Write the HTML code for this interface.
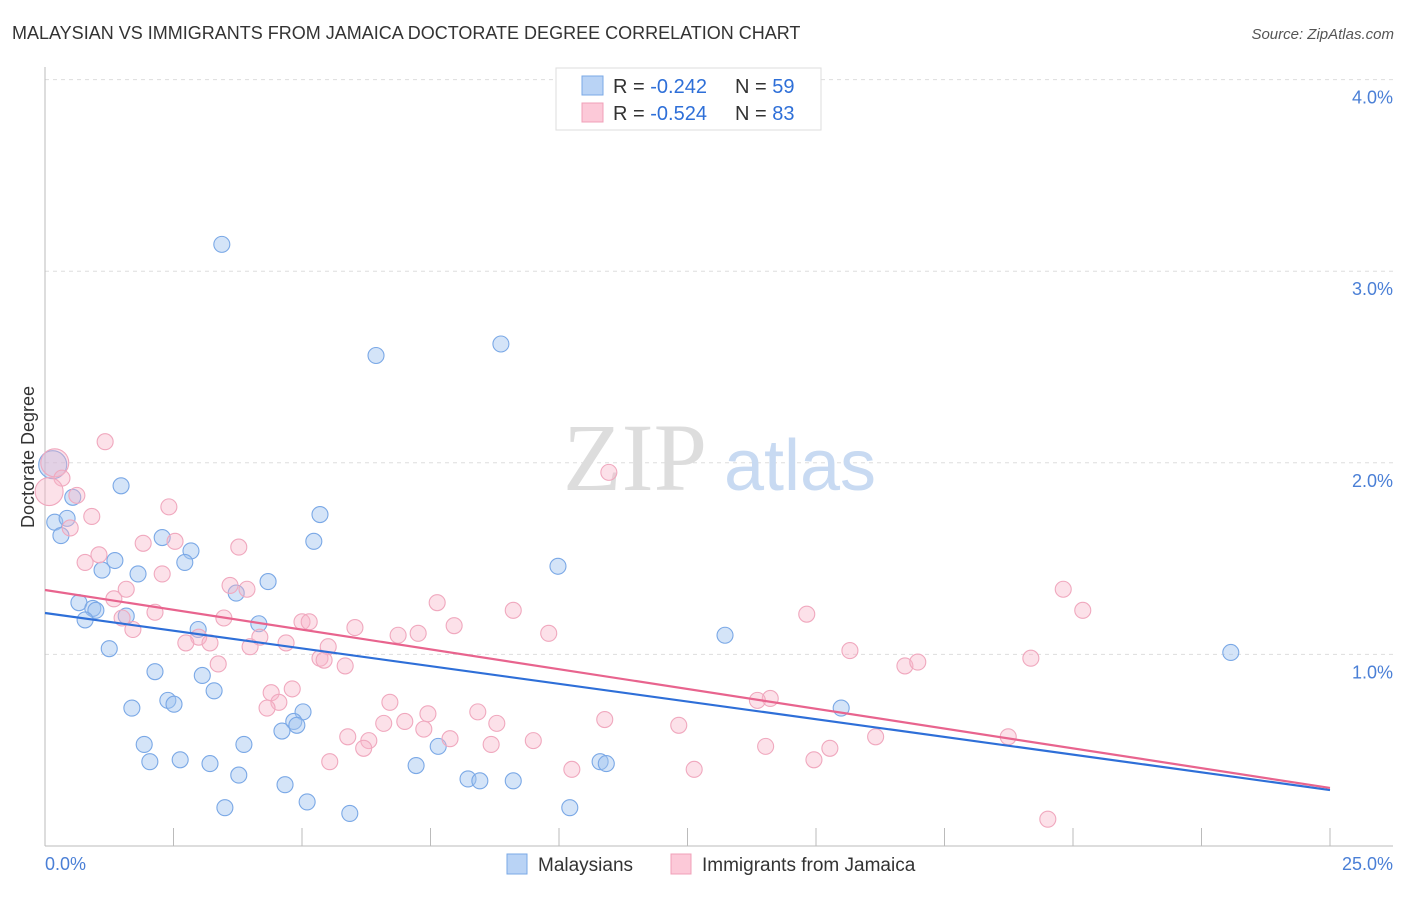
<!DOCTYPE html>
<html><head><meta charset="utf-8"><style>
body{margin:0;background:#fff;font-family:"Liberation Sans",sans-serif;}
</style></head><body>
<svg id="chart" width="1406" height="892" xmlns="http://www.w3.org/2000/svg" font-family="Liberation Sans, sans-serif">
<text x="12" y="39" font-size="18" fill="#333">MALAYSIAN VS IMMIGRANTS FROM JAMAICA DOCTORATE DEGREE CORRELATION CHART</text>
<text x="1394" y="39" font-size="15" fill="#555" text-anchor="end" font-style="italic">Source: ZipAtlas.com</text>
<g id="grid"></g>
<text x="635" y="490" font-size="96" fill="#ddd" style="font-family:'Liberation Serif',serif" text-anchor="middle">ZIP</text>
<text x="800" y="490" font-size="72" fill="#c8daf2" text-anchor="middle">atlas</text>
<g id="pts"></g>
<g id="lines"></g>
<text transform="translate(34,457) rotate(-90)" font-size="18" fill="#333" text-anchor="middle">Doctorate Degree</text>
<text x="45" y="870" font-size="18" fill="#4a7fd6">0.0%</text>
<text x="1393" y="870" font-size="18" fill="#4a7fd6" text-anchor="end">25.0%</text>
<g>
<rect x="556" y="68" width="265" height="62" fill="#fff" stroke="#ddd"/>
<rect x="582" y="76" width="21" height="19" fill="#b9d3f5" stroke="#7aa8e6"/>
<rect x="582" y="103" width="21" height="19" fill="#fcc9d8" stroke="#f0a0b8"/>
<text x="613" y="93" font-size="20" fill="#333">R = <tspan fill="#2e6fd8">-0.242</tspan><tspan x="735">N = </tspan><tspan fill="#2e6fd8">59</tspan></text>
<text x="613" y="120" font-size="20" fill="#333">R = <tspan fill="#2e6fd8">-0.524</tspan><tspan x="735">N = </tspan><tspan fill="#2e6fd8">83</tspan></text>
</g>
<g>
<rect x="507" y="854" width="20" height="20" fill="#b9d3f5" stroke="#7aa8e6"/>
<text x="538" y="871" font-size="19" fill="#333">Malaysians</text>
<rect x="671" y="854" width="20" height="20" fill="#fcc9d8" stroke="#f0a0b8"/>
<text x="702" y="871" font-size="19" fill="#333">Immigrants from Jamaica</text>
</g>
</svg>
<script>
const yTicks=[1,2,3,4];
const yTickLabels=["1.0%","2.0%","3.0%","4.0%"];
const blueX=[3.44,6.44,8.87,1.48,0.54,0.19,0.43,0.31,5.35,5.23,2.28,2.84,2.72,1.36,1.11,1.81,4.34,3.72,9.98,0.66,0.93,0.99,0.78,1.58,4.16,2.98,1.25,13.23,23.07,2.14,3.06,3.29,2.39,2.51,1.69,5.02,4.84,4.90,4.61,15.49,1.93,3.87,7.65,2.04,2.63,3.21,7.22,10.80,10.92,3.77,4.67,8.23,8.46,9.11,3.50,5.10,5.93,10.21,0.15];
const blueY=[3.14,2.56,2.62,1.88,1.82,1.69,1.71,1.62,1.73,1.59,1.61,1.54,1.48,1.49,1.44,1.42,1.38,1.32,1.46,1.27,1.24,1.23,1.18,1.20,1.16,1.13,1.03,1.10,1.01,0.91,0.89,0.81,0.76,0.74,0.72,0.70,0.65,0.63,0.60,0.72,0.53,0.53,0.52,0.44,0.45,0.43,0.42,0.44,0.43,0.37,0.32,0.35,0.34,0.34,0.20,0.23,0.17,0.20,1.99];
const blueR=[8,8,8,8,8,8,8,8,8,8,8,8,8,8,8,8,8,8,8,8,8,8,8,8,8,8,8,8,8,8,8,8,8,8,8,8,8,8,8,8,8,8,8,8,8,8,8,8,8,8,8,8,8,8,8,8,8,8,14];
const pinkX=[1.17,10.97,0.19,0.33,0.62,0.08,0.91,0.49,2.41,1.91,2.53,3.77,1.05,0.78,2.28,3.60,3.93,1.58,1.34,2.14,1.50,3.48,1.71,5.00,5.14,7.63,6.03,7.96,9.11,19.81,20.19,14.82,4.18,4.69,2.99,2.74,3.21,5.51,3.99,6.87,7.26,9.80,15.66,5.35,5.43,5.84,3.37,16.73,16.98,19.18,4.40,4.81,4.55,4.32,6.71,6.59,7.00,7.45,7.37,8.42,8.79,10.89,12.33,14.11,13.86,5.89,6.30,6.20,7.88,8.68,9.50,16.16,18.74,14.02,15.27,14.96,5.54,12.63,10.25,19.51];
const pinkY=[2.11,1.95,2.00,1.92,1.83,1.85,1.72,1.66,1.77,1.58,1.59,1.56,1.52,1.48,1.42,1.36,1.34,1.34,1.29,1.22,1.19,1.19,1.13,1.17,1.17,1.27,1.14,1.15,1.23,1.34,1.23,1.21,1.09,1.06,1.09,1.06,1.06,1.04,1.04,1.10,1.11,1.11,1.02,0.98,0.97,0.94,0.95,0.94,0.96,0.98,0.80,0.82,0.75,0.72,0.75,0.64,0.65,0.69,0.61,0.70,0.64,0.66,0.63,0.77,0.76,0.57,0.55,0.51,0.56,0.53,0.55,0.57,0.57,0.52,0.51,0.45,0.44,0.40,0.40,0.14];
const pinkR=[8,8,14,8,8,14,8,8,8,8,8,8,8,8,8,8,8,8,8,8,8,8,8,8,8,8,8,8,8,8,8,8,8,8,8,8,8,8,8,8,8,8,8,8,8,8,8,8,8,8,8,8,8,8,8,8,8,8,8,8,8,8,8,8,8,8,8,8,8,8,8,8,8,8,8,8,8,8,8,8];
const blueLine=[1.216,0.292];
const pinkLine=[1.336,0.303];
const X=v=>45+v/25*1285, Y=v=>846-v*191.6;
const NS="http://www.w3.org/2000/svg";
function mk(tag,attrs,parent){const e=document.createElementNS(NS,tag);for(const k in attrs)e.setAttribute(k,attrs[k]);parent.appendChild(e);return e;}
const grid=document.getElementById('grid');
yTicks.forEach((t,i)=>{
  const l=mk('line',{x1:45,x2:1393,y1:Y(t),y2:Y(t),stroke:'#ddd','stroke-dasharray':'4,4'},grid);
  
  
  const tx=mk('text',{x:1393,y:Y(t)+24,'font-size':18,fill:'#4a7fd6','text-anchor':'end'},grid);
  tx.textContent=yTickLabels[i];
  
  
});
const ax=mk('line',{x1:45,x2:45,y1:67,y2:846,stroke:'#bbb'},grid);


const bx=mk('line',{x1:45,x2:1393,y1:846,y2:846,stroke:'#bbb'},grid);


for(let i=1;i<=10;i++){
  const t=mk('line',{x1:X(i*2.5),x2:X(i*2.5),y1:828,y2:846,stroke:'#bbb'},grid);
  
  
}
const pts=document.getElementById('pts');
blueX.forEach((x,i)=>{
  const c=mk('circle',{cx:X(x),cy:Y(blueY[i]),r:blueR[i],fill:'rgba(160,196,240,0.45)',stroke:'#7aa8e6','stroke-width':1.1},pts);
  
  
});
pinkX.forEach((x,i)=>{
  const c=mk('circle',{cx:X(x),cy:Y(pinkY[i]),r:pinkR[i],fill:'rgba(248,180,200,0.4)',stroke:'#f0a8be','stroke-width':1.1},pts);
  
  
});
const lines=document.getElementById('lines');
const lb=mk('line',{x1:X(0),y1:Y(blueLine[0]),x2:X(25),y2:Y(blueLine[1]),stroke:'#2e6fd8','stroke-width':2.2},lines);


const lp=mk('line',{x1:X(0),y1:Y(pinkLine[0]),x2:X(25),y2:Y(pinkLine[1]),stroke:'#e8648e','stroke-width':2.2},lines);


</script>
</body></html>
